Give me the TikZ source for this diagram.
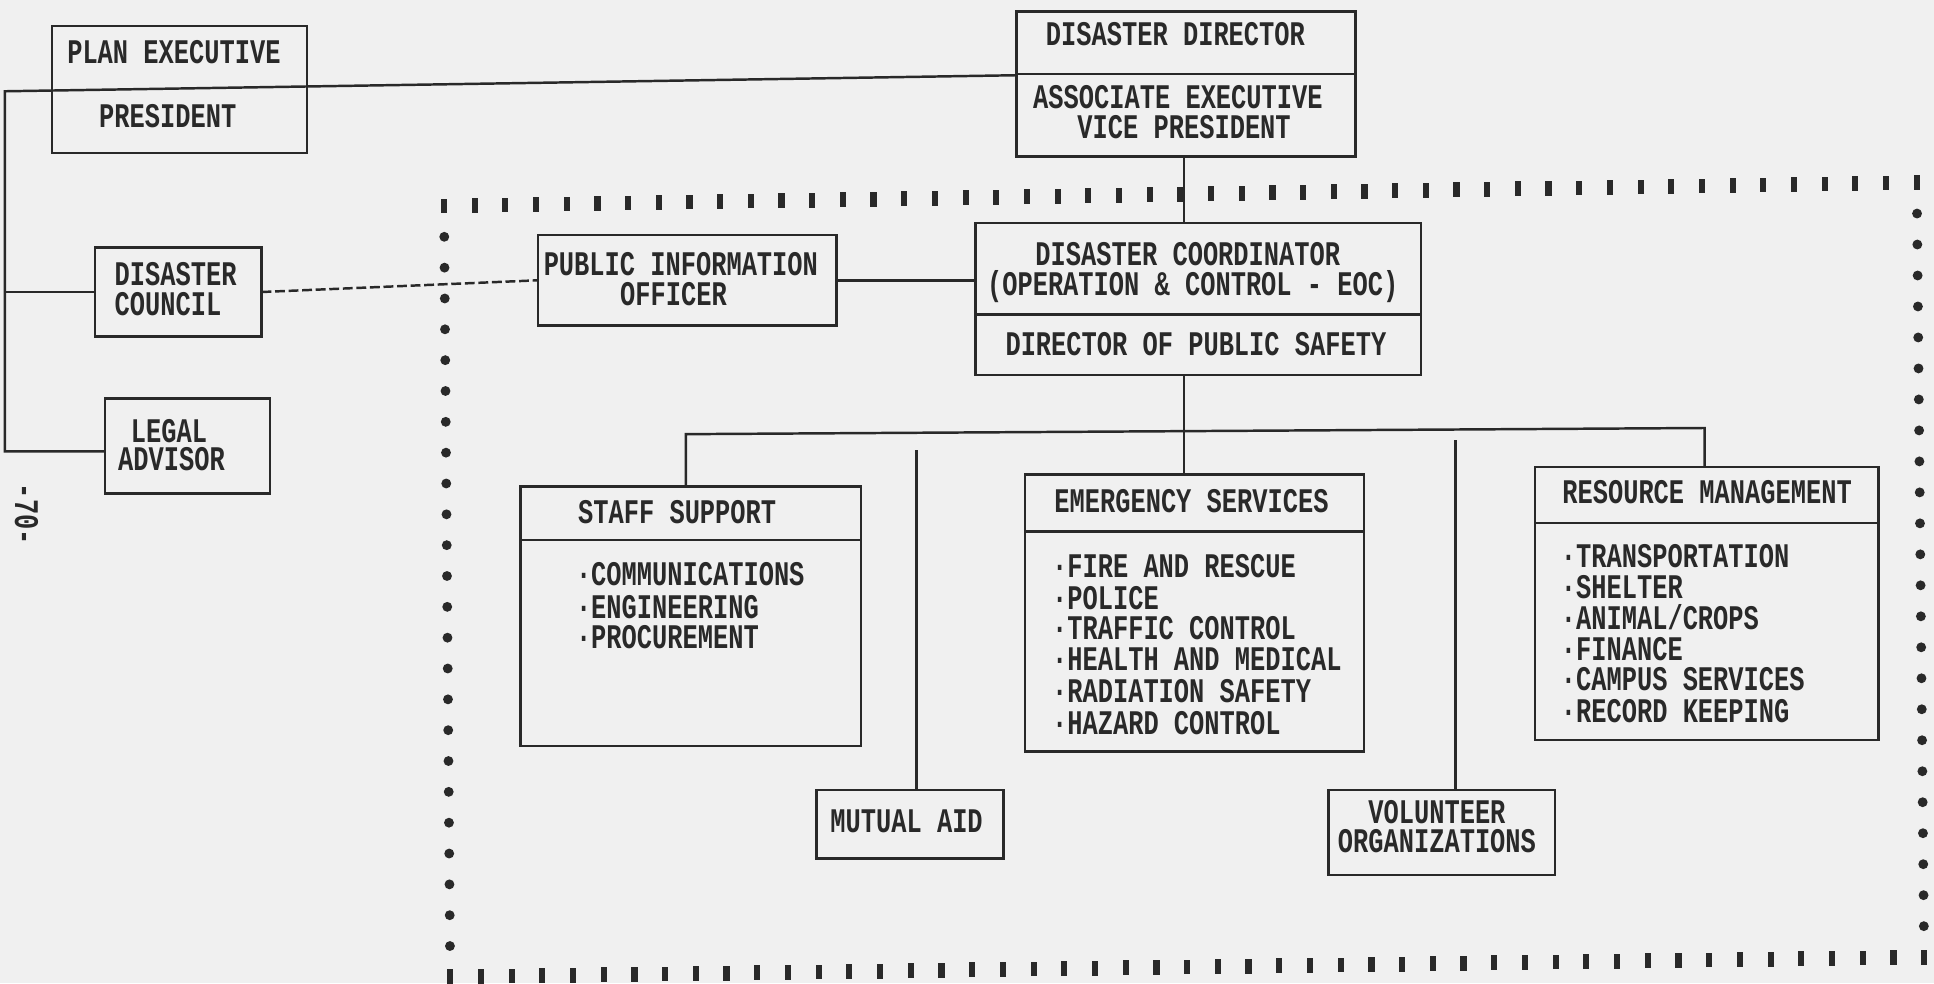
\documentclass[tikz,border=0pt]{standalone}
\usepackage{fontspec}
\newfontfamily\dm[FakeStretch=0.735]{Liberation Mono}
\usetikzlibrary{calc}
\definecolor{ink}{HTML}{292929}
\definecolor{paper}{HTML}{F0F0F0}
\begin{document}
\begin{tikzpicture}[x=1pt, y=-1pt,
  box/.style={draw=ink, line width=2pt, inner sep=0pt, outer sep=0pt},
  lbl/.style={text=ink, font=\dm\bfseries\fontsize{28}{28}\selectfont, inner sep=0pt, outer sep=0pt, text height=17pt, text depth=0pt},
  conn/.style={draw=ink, line width=2pt},
  dashconn/.style={conn, dash pattern=on 8pt off 3pt},
  tick/.style={fill=ink},
  dot/.style={fill=ink}]
\fill[paper] (0,0) rectangle (1568,797);
\useasboundingbox (0,0) rectangle (1568,797);

% ---------- dotted border ----------
\coordinate (TL) at (360,167);
\coordinate (TR) at (1554,148);
\coordinate (BR) at (1560,776);
\coordinate (BL) at (365,792);
\foreach \i in {0,...,48}{
  \fill[tick] ($(TL)!\i/48!(TR)$) +(-2.5,-6) rectangle +(2.5,6);
  \fill[tick] ($(BL)!\i/48!(BR)$) +(-2.5,-6) rectangle +(2.5,6);
}
\foreach \i in {1,...,24}{
  \fill[dot] ($(TL)!\i/25!(BL)$) circle[radius=4pt];
  \fill[dot] ($(TR)!\i/25!(BR)$) circle[radius=4pt];
}

% ---------- boxes ----------
\node[box, minimum width=207pt, minimum height=103pt] (pe) at (145.5,72.5) {};
\node[box, minimum width=275pt, minimum height=117.5pt] (dd) at (961.5,68.25) {};
\node[box, minimum width=361pt, minimum height=123pt] (dc) at (971.5,242.5) {};
\node[box, minimum width=242pt, minimum height=73.5pt] (pio) at (557,227.25) {};
\node[box, minimum width=135pt, minimum height=72.5pt] (dcl) at (144.5,236.75) {};
\node[box, minimum width=134pt, minimum height=77pt] (la) at (152,361.5) {};
\node[box, minimum width=276pt, minimum height=210.4pt] (ss) at (560,499.8) {};
\node[box, minimum width=275pt, minimum height=224.6pt] (es) at (968.5,496.9) {};
\node[box, minimum width=278.5pt, minimum height=221.5pt] (rm) at (1383.75,489.25) {};
\node[box, minimum width=151.5pt, minimum height=55.5pt] (ma) at (737.75,668.25) {};
\node[box, minimum width=183.7pt, minimum height=68.9pt] (vo) at (1168.85,674.95) {};

% dividers
\draw[conn] (dd.west |- 0,60) -- (dd.east |- 0,60);
\draw[conn] (dc.west |- 0,255) -- (dc.east |- 0,255);
\draw[conn] (ss.west |- 0,438) -- (ss.east |- 0,438);
\draw[conn] (es.west |- 0,431) -- (es.east |- 0,431);
\draw[conn] (rm.west |- 0,424) -- (rm.east |- 0,424);

% ---------- connectors ----------
\coordinate (lt) at (4,74);
\coordinate (lb) at (4,366);
\coordinate (ddl) at (824,61);
\draw[conn] (ddl) -- (lt) -- (lb) -- (la.west |- lb);
\draw[conn] (lt |- dcl.west) -- (dcl.west);
\draw[dashconn] (dcl.east) -- (pio.west);
\draw[conn] (pio.east) -- (pio.east -| dc.west);
\coordinate (vx) at (960,0);
\draw[conn] (dd.south -| vx) -- (dc.north -| vx);
\draw[conn] (dc.south -| vx) -- (es.north -| vx);
\coordinate (bl) at (556,352);
\coordinate (br) at (1382,347);
\draw[conn] (ss.north -| bl) -- (bl) -- (br) -- (br |- rm.north);
\coordinate (mt) at (743,365);
\draw[conn] (mt) -- (mt |- ma.north);
\coordinate (vt) at (1180,357);
\draw[conn] (vt) -- (vt |- vo.north);

% ---------- texts ----------
\node[lbl] (t-pe1) at (141,43.2) {PLAN EXECUTIVE};
\node[lbl] (t-pe2) at (136,94.6) {PRESIDENT};
\node[lbl] (t-dd1) at (953,28.4) {DISASTER DIRECTOR};
\node[lbl] (t-dd2) at (955,79.7) {ASSOCIATE EXECUTIVE};
\node[lbl] (t-dd3) at (960,104) {VICE PRESIDENT};
\node[lbl] (t-dc1) at (963,206.7) {DISASTER COORDINATOR};
\node[lbl] (t-dc2) at (967,231) {(OPERATION \& CONTROL - EOC)};
\node[lbl] (t-dc3) at (969.6,279.7) {DIRECTOR OF PUBLIC SAFETY};
\node[lbl] (t-pio1) at (552,215) {PUBLIC INFORMATION};
\node[lbl] (t-pio2) at (546,239) {OFFICER};
\node[lbl, anchor=west] (t-dcl1) at (93,223) {DISASTER};
\node[lbl, anchor=west] (t-dcl2) at (93,247.3) {COUNCIL};
\node[lbl] (t-la1) at (137,350) {LEGAL};
\node[lbl] (t-la2) at (139,373) {ADVISOR};
\node[lbl, rotate=-90] (t-pg) at (20.7,417) {-70-};

\node[lbl] (t-ss) at (549,416) {STAFF SUPPORT};
\node[lbl, anchor=west] (t-ss1) at (467,466.2) {·COMMUNICATIONS};
\node[lbl, anchor=west] (t-ss2) at (467,493.2) {·ENGINEERING};
\node[lbl, anchor=west] (t-ss3) at (467,517.5) {·PROCUREMENT};

\node[lbl] (t-es) at (966,407) {EMERGENCY SERVICES};
\node[lbl, anchor=west] (t-es1) at (853,460) {·FIRE AND RESCUE};
\node[lbl, anchor=west] (t-es2) at (853,485.6) {·POLICE};
\node[lbl, anchor=west] (t-es3) at (853,509.7) {·TRAFFIC CONTROL};
\node[lbl, anchor=west] (t-es4) at (853,535.4) {·HEALTH AND MEDICAL};
\node[lbl, anchor=west] (t-es5) at (853,561) {·RADIATION SAFETY};
\node[lbl, anchor=west] (t-es6) at (853,586.6) {·HAZARD CONTROL};

\node[lbl] (t-rm) at (1384,400) {RESOURCE MANAGEMENT};
\node[lbl, anchor=west] (t-rm1) at (1265.5,451.3) {·TRANSPORTATION};
\node[lbl, anchor=west] (t-rm2) at (1265.5,477) {·SHELTER};
\node[lbl, anchor=west] (t-rm3) at (1265.5,501.6) {·ANIMAL/CROPS};
\node[lbl, anchor=west] (t-rm4) at (1265.5,527.4) {·FINANCE};
\node[lbl, anchor=west] (t-rm5) at (1265.5,551.6) {·CAMPUS SERVICES};
\node[lbl, anchor=west] (t-rm6) at (1265.5,577.3) {·RECORD KEEPING};

\node[lbl] (t-ma) at (735,666.2) {MUTUAL AID};
\node[lbl] (t-vo1) at (1165,659.4) {VOLUNTEER};
\node[lbl] (t-vo2) at (1165,682.4) {ORGANIZATIONS};
\end{tikzpicture}
\end{document}
